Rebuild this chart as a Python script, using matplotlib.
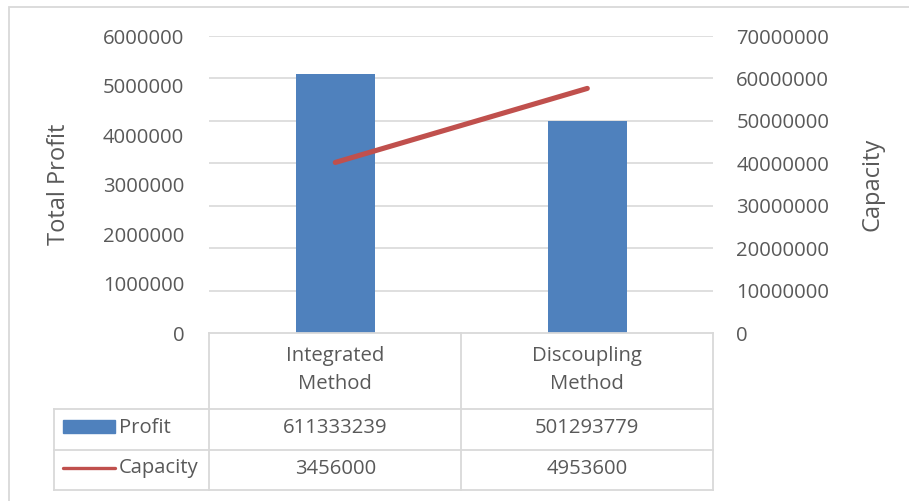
import matplotlib
matplotlib.use("Agg")
from matplotlib import pyplot as plt
from matplotlib import transforms
from matplotlib.lines import Line2D
from matplotlib.patches import Rectangle
import numpy as np

plt.rcParams["font.family"] = ["Open Sans", "DejaVu Sans"]

methods = ["Integrated\nMethod", "Discoupling\nMethod"]
profit = [611333239, 501293779]
capacity = [3456000, 4953600]

# the chart plots both series against rescaled axes
profit_scale = 1 / 117.0
capacity_scale = 11.64

left_ticks = list(range(0, 6000001, 1000000))
right_ticks = list(range(0, 70000001, 10000000))

BLUE = "#4f81bd"
RED = "#c0504d"
GREY = "#d9d9d9"
TEXT = "#595959"
FS = 14.6
TITLE_FS = 17

W, H = 909, 501
fig = plt.figure(figsize=(W / 100, H / 100), dpi=100)


def fx(px):
    return px / W


def fy(py):
    return 1 - py / H


# plot area in pixels
PL, PR, PT, PB = 209.3, 713.3, 36.0, 333.3
ax = fig.add_axes([fx(PL), fy(PB), fx(PR) - fx(PL), fy(PT) - fy(PB)])
ax2 = ax.twinx()

x = np.arange(len(methods))
ax.set_xlim(-0.5, len(methods) - 0.5)
ax.set_ylim(0, 6000000)
ax2.set_ylim(0, 70000000)

# gridlines follow the secondary axis but sit behind the bars
grid_tr = transforms.blended_transform_factory(ax.transAxes, ax2.transData)
for t in right_ticks[1:]:
    ax.add_line(Line2D([0, 1], [t, t], transform=grid_tr, color=GREY, lw=1.2, zorder=0))

ax.bar(x, np.array(profit) * profit_scale, width=0.312, color=BLUE, zorder=2)
ax2.plot(x, np.array(capacity) * capacity_scale, color=RED, lw=3.7,
         solid_capstyle="round", zorder=3)

ax.set_yticks(left_ticks)
ax.set_yticklabels([str(v) for v in left_ticks])
ax2.set_yticks(right_ticks)
ax2.set_yticklabels([str(v) for v in right_ticks])
ax.tick_params(axis="y", length=0, pad=18, labelsize=FS, labelcolor=TEXT)
ax2.tick_params(axis="y", length=0, pad=16.5, labelsize=FS, labelcolor=TEXT)
ax.set_xticks([])
for a in (ax, ax2):
    for s in a.spines.values():
        s.set_visible(False)
ax.patch.set_visible(False)

fig.text(fx(59), fy(PT + (PB - PT) / 2), "Total Profit", rotation=90,
         ha="center", va="center", fontsize=TITLE_FS, color=TEXT)
fig.text(fx(872), fy(PT + (PB - PT) / 2), "Capacity", rotation=90,
         ha="center", va="center", fontsize=TITLE_FS, color=TEXT)

# data table under the plot
rows = [PB, 408.7, 449.5, 490.0]
key_left = 54.3
col_tr = transforms.blended_transform_factory(ax.transData, fig.transFigure)
lkw = dict(color=GREY, lw=1.3, solid_capstyle="projecting")

fig.add_artist(Line2D([fx(PL), fx(PR)], [fy(rows[0])] * 2, **lkw))
for r in rows[1:]:
    fig.add_artist(Line2D([fx(key_left), fx(PR)], [fy(r)] * 2, **lkw))
for edge in np.arange(len(methods) + 1) - 0.5:
    fig.add_artist(Line2D([edge, edge], [fy(rows[0]), fy(rows[-1])],
                          transform=col_tr, **lkw))
fig.add_artist(Line2D([fx(key_left)] * 2, [fy(rows[1]), fy(rows[-1])], **lkw))

for i, name in enumerate(methods):
    fig.text(x[i], fy((rows[0] + rows[1]) / 2 - 1), name, transform=col_tr,
             ha="center", va="center", fontsize=FS, color=TEXT, linespacing=1.5)
    fig.text(x[i], fy((rows[1] + rows[2]) / 2 - 1), str(profit[i]), transform=col_tr,
             ha="center", va="center", fontsize=FS, color=TEXT)
    fig.text(x[i], fy((rows[2] + rows[3]) / 2 - 1), str(capacity[i]), transform=col_tr,
             ha="center", va="center", fontsize=FS, color=TEXT)

# legend keys in the first column
fig.add_artist(Rectangle((fx(63), fy(433.3)), fx(115) - fx(63), fy(420) - fy(433.3),
                         color=BLUE, transform=fig.transFigure))
fig.text(fx(119), fy(428), "Profit", ha="left", va="center", fontsize=FS, color=TEXT)
fig.add_artist(Line2D([fx(63), fx(114.5)], [fy(468.3)] * 2, color=RED, lw=2.4,
                      solid_capstyle="round"))
fig.text(fx(119), fy(468.5), "Capacity", ha="left", va="center", fontsize=FS, color=TEXT)

# chart area border
fig.add_artist(Rectangle((fx(8.5), -0.1), 1.2, fy(6.5) + 0.1, fill=False,
                         edgecolor=GREY, lw=1.3, transform=fig.transFigure))

fig.savefig("out.png", dpi=100, facecolor="white")
